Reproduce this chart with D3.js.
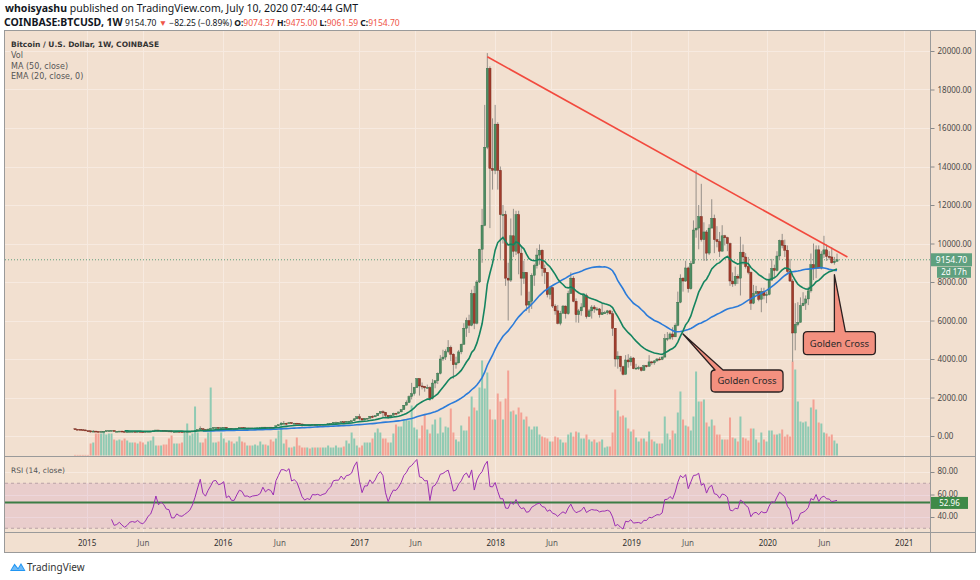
<!DOCTYPE html>
<html><head><meta charset="utf-8">
<script src="https://cdn.jsdelivr.net/npm/d3@7"></script>
<style>body{margin:0;background:#fff;} svg{display:block;font-family:"Noto Sans","Open Sans",sans-serif;}</style>
</head><body><svg id="c" width="980" height="580"></svg>
<script>
// ---------- DATA ----------
const startWeek = "2014-12-01";
const firstOpen = 378;
const closes = [352,348,330,317,273,270,210,255,235,228,
235,245,277,281,286,245,248,256,237,222,
228,238,240,236,241,230,225,232,244,250,
270,310,280,291,282,265,263,228,228,240,
232,230,235,240,246,260,285,325,381,335,
323,358,391,434,438,423,430,447,383,395,
374,374,406,438,433,413,415,410,416,418,
420,428,460,446,459,456,443,530,585,665,
665,660,698,650,665,655,625,588,570,580,
575,608,606,610,605,612,616,640,655,700,
705,705,740,730,765,770,790,890,998,905,
830,920,920,1020,995,1055,1180,1260,1230,1070,
960,1080,1180,1175,1250,1370,1600,1740,2050,2200,
2520,2980,2600,2580,2500,2520,1950,2750,2870,3250,
4000,4100,4380,4600,4250,3700,3800,4370,4760,5600,
6000,5750,7400,5860,8000,9700,10950,15000,19100,13900,
13800,16200,13800,11500,11500,8200,8100,10400,9600,11500,
9500,8200,8500,6800,7000,8350,8850,9400,9650,8700,
8500,7350,7700,6750,6500,5850,6380,6750,6350,7400,
8200,7000,6300,6500,6700,7300,6200,6500,6700,6600,
6600,6300,6400,6400,6500,6350,5600,4000,4150,3600,
3200,3950,3850,4050,3500,3530,3550,3410,3650,3620,
3850,3800,3900,4000,3980,4100,5050,5070,5300,5150,
5750,6950,8200,8050,8730,7650,8950,10700,10800,11400,
10200,10600,9500,10800,11300,10200,10100,9600,10400,10300,
10000,8050,7900,8300,8200,9550,9300,8800,8500,6900,
7400,7500,7100,7500,7300,7350,8100,8700,8600,9350,
10150,9900,9650,8550,8050,5350,5800,5900,6770,6900,
7120,7540,8900,8720,9670,8720,9450,9670,9330,9300,
9000,9074.37,9154.70];
const highs = [382,357,352,335,320,300,275,310,262,245,
265,250,282,300,298,288,255,260,260,240,
235,245,245,245,245,243,232,238,255,258,
275,315,300,298,300,285,268,267,240,245,
245,235,237,244,248,265,288,336,502,382,
345,380,395,466,468,458,440,460,455,415,
398,390,410,445,440,440,420,418,420,420,
424,430,464,468,465,464,458,530,595,710,
780,686,705,702,680,680,660,630,600,585,
585,612,623,612,612,615,623,645,660,720,
745,725,752,755,770,780,795,935,1030,1150,
915,930,930,1040,1070,1060,1190,1290,1330,1250,
1080,1100,1210,1200,1260,1380,1600,1850,2110,2760,
2550,3000,3000,2780,2600,2670,2580,2950,2880,3300,
4200,4480,4500,4980,4700,4300,4120,4470,4800,5860,
6150,6300,7600,7800,8100,9730,11800,17200,19891,19200,
16500,17200,16300,14000,12000,11700,9000,11300,11800,11700,
11700,9900,9100,8500,7500,8450,8950,9750,9950,9700,
8900,8500,7800,7750,6850,6800,6500,6800,6780,7550,
8500,8300,7150,6600,6900,7400,7400,6600,6800,6800,
6700,6650,6900,6500,6550,6550,6500,5600,4400,4150,
3650,4200,4250,4150,4100,3750,3650,3600,3700,3690,
4200,3900,3950,4050,4100,4150,5300,5400,5380,5650,
5850,7500,8400,8250,9100,8800,9100,11200,13800,12000,
13100,11100,10700,11000,12300,11500,10900,10600,10950,10450,
10350,10050,8500,8800,8400,10350,9950,9500,9300,8550,
7850,7800,7500,7700,7700,7500,8450,9200,8900,9600,
10200,10500,10200,9900,9200,8150,6900,6950,7200,7470,
7300,7750,9480,10000,9900,9900,9600,10400,9950,9600,
9800,9300,9475];
const lows = [345,340,310,310,262,265,170,205,215,212,
218,225,236,265,265,240,235,242,230,215,
218,220,232,231,234,224,220,225,230,240,
248,265,270,275,277,258,258,190,200,225,
228,225,227,235,236,245,258,283,325,300,
310,313,355,391,430,414,417,425,370,362,
364,368,370,402,405,408,404,405,409,413,
415,420,425,445,443,448,436,440,525,570,
640,550,620,627,645,645,620,480,565,568,
568,568,601,600,590,600,607,612,630,650,
700,693,700,725,728,755,765,790,890,820,
750,820,880,915,930,990,1045,1150,980,950,
890,930,1070,1140,1170,1240,1360,1600,1720,1900,
2100,2500,2100,2420,2300,2480,1830,1900,2480,2700,
3200,3900,3950,4300,3900,2980,3500,3770,4250,4750,
5150,5350,5700,5550,5800,7950,9000,10900,14900,10800,
12800,13600,12800,9200,10000,7800,6000,8000,9300,9400,
8400,7300,7900,6500,6400,6600,7800,8700,8900,8300,
7900,7200,7100,6650,6300,5800,5750,6350,6100,6300,
7400,6950,5900,5880,6250,6700,6100,6200,6100,6400,
6500,6150,6300,6380,6300,6300,5200,3600,3500,3350,
3150,3200,3550,3650,3470,3450,3430,3350,3380,3560,
3600,3700,3700,3860,3930,3940,4080,4930,5000,5000,
5150,5700,6900,7500,8000,7450,7600,8950,10300,9700,
10100,9100,9100,9400,10800,9500,9800,9300,9600,9900,
9600,7800,7750,7800,7900,7300,8900,8700,8400,6550,
6850,7300,7000,6430,7100,6900,7300,8050,8250,8550,
9150,9750,9300,8400,8000,3850,4450,5700,5900,6750,
6550,6800,7450,8100,8200,8700,8650,9250,9100,9150,
8950,8900,9061.59];
const volumes = [0.6,0.6,0.6,0.6,0.6,0.6,
12,13,22,22,22,24,21,22,22,16,
15,16,15,17,15,13,13,13,12,14,13,
11,14,15,19,10,10,10,11,11,17,
20,12,12,12,13,23,32,20,22,49,
23,13,13,17,23,68,13,13,14,23,
17,13,15,14,12,14,19,14,13,10,
10,10,11,10,14,11,11,10,16,14,
17,25,33,12,16,8,8,9,18,10,
8,8,8,7,8,8,8,8,8,8,
10,8,8,10,8,8,9,15,12,23,
17,10,8,10,13,13,13,17,23,27,
23,17,17,13,13,22,31,29,29,36,
36,35,50,28,26,17,30,41,26,22,
31,36,22,
38,23,29,28,47,23,16,14,30,25,
25,39,59,48,45,68,95,67,83,46,
36,36,62,54,36,57,85,44,45,41,
48,43,36,39,29,26,29,29,21,19,
18,17,14,14,19,18,16,13,13,21,
23,19,24,23,17,17,21,16,14,16,
13,14,16,8,9,9,23,66,45,39,
40,38,27,24,26,18,14,17,17,14,
24,16,14,12,12,12,39,22,16,25,
22,43,64,36,30,29,25,39,84,54,
54,56,33,29,36,30,21,21,16,16,
16,38,18,17,14,39,18,17,15,27,
27,16,13,23,16,14,25,25,21,21,
22,26,19,21,19,94,86,54,34,33,
34,29,48,56,46,33,32,23,22,19,
21,15,12];
const priceTicks = [0,2000,4000,6000,8000,10000,12000,14000,16000,18000,20000];
const rsiTicks = [40,60,80];
const timeTicks = [["2015-01-01","2015"],["2015-06-01","Jun"],["2016-01-01","2016"],["2016-06-01","Jun"],
["2017-01-01","2017"],["2017-06-01","Jun"],["2018-01-01","2018"],["2018-06-01","Jun"],["2019-01-01","2019"],
["2019-06-01","Jun"],["2020-01-01","2020"],["2020-06-01","Jun"],["2021-01-01","2021"]];
const trendLine = [["2017-12-11",19700],["2020-08-03",9300]];
const callouts = [["2019-05-20",5300,"Golden Cross"],["2020-06-29",8380,"Golden Cross"]];
const lastPrice = 9154.70, countdown = "2d 17h", rsiLast = 52.96;
const headerLine1 = ["whoisyashu", " published on TradingView.com, July 10, 2020 07:40:44 GMT"];
const symbolText = "COINBASE:BTCUSD, 1W", changeText = "−82.25 (−0.89%)";
const ohlcLabels = ["O:", "H:", "L:", "C:"], ohlcValues = ["9074.37", "9475.00", "9061.59", "9154.70"];
const legendLines = ["Bitcoin / U.S. Dollar, 1W, COINBASE", "Vol", "MA (50, close)", "EMA (20, close, 0)"];

// ---------- SCALES ----------
const parse = d3.utcParse("%Y-%m-%d");
const t0 = parse(startWeek);
const dates = closes.map((_, i) => d3.utcDay.offset(t0, 7 * i));
const opens = closes.map((c, i) => i === 0 ? firstOpen : closes[i - 1]);
const N = closes.length;
const x = d3.scaleUtc().domain([t0, dates[N - 1]]).range([75, 837]);
const yP = d3.scaleLinear().domain([0, 20000]).range([436, 51]);
const yV = d3.scaleLinear().domain([0, 100]).range([455.5, 355.5]);
const yR = d3.scaleLinear().domain([30, 80]).range([528.25, 472]);

// indicators
const ma50 = closes.map((c, i) => i < 49 ? null : d3.mean(closes.slice(i - 49, i + 1)));
const ema20 = []; { const a = 2 / 21; let e = null;
  closes.forEach((c, i) => { if (i < 19) { ema20.push(null); return; }
    if (i === 19) e = d3.mean(closes.slice(0, 20)); else e = a * c + (1 - a) * e; ema20.push(e); }); }
const rsi = []; { const n = 14; let g = 0, l = 0;
  for (let i = 0; i < N; i++) {
    if (i === 0) { rsi.push(null); continue; }
    const d = closes[i] - closes[i - 1];
    if (i <= n) { g += Math.max(d, 0); l += Math.max(-d, 0);
      if (i === n) { g /= n; l /= n; rsi.push(100 - 100 / (1 + g / l)); } else rsi.push(null); continue; }
    g = (g * (n - 1) + Math.max(d, 0)) / n; l = (l * (n - 1) + Math.max(-d, 0)) / n;
    rsi.push(l === 0 ? 100 : 100 - 100 / (1 + g / l)); } }

// ---------- DRAW ----------
const svg = d3.select("#c");
const BG = "#F2E0D0", GRID = "#F7EAE0", FRAME = "#9a9a9a";
svg.append("rect").attr("x", 4.5).attr("y", 30.5).attr("width", 971).attr("height", 522).attr("fill", BG).attr("stroke", FRAME);

const defs = svg.append("defs");
defs.append("clipPath").attr("id", "main").append("rect").attr("x", 5).attr("y", 31).attr("width", 925).attr("height", 425);
defs.append("clipPath").attr("id", "rsip").append("rect").attr("x", 5).attr("y", 457).attr("width", 925).attr("height", 75);

// grid
const grid = svg.append("g").attr("stroke", GRID).attr("stroke-width", 1);
priceTicks.forEach(t => grid.append("line").attr("x1", 5).attr("x2", 930).attr("y1", Math.round(yP(t)) + 0.5).attr("y2", Math.round(yP(t)) + 0.5));
timeTicks.forEach(t => { const xx = Math.round(x(parse(t[0]))) + 0.5;
  grid.append("line").attr("x1", xx).attr("x2", xx).attr("y1", 31).attr("y2", 532); });
rsiTicks.forEach(t => grid.append("line").attr("x1", 5).attr("x2", 930).attr("y1", Math.round(yR(t)) + 0.5).attr("y2", Math.round(yR(t)) + 0.5));

const main = svg.append("g").attr("clip-path", "url(#main)");
// volume
main.append("g").selectAll("rect").data(volumes).join("rect")
  .attr("x", (d, i) => x(dates[i]) - 1).attr("width", 2)
  .attr("y", d => yV(d)).attr("height", d => yV(0) - yV(d))
  .attr("fill", (d, i) => closes[i] >= opens[i] ? "#8FCAB3" : "#F3A194");

// price line
main.append("line").attr("x1", 5).attr("x2", 930).attr("y1", yP(lastPrice)).attr("y2", yP(lastPrice))
  .attr("stroke", "#5E9E7E").attr("stroke-dasharray", "1,2").attr("stroke-width", 1);

// candles
const cg = main.append("g");
closes.forEach((c, i) => {
  const cx = x(dates[i]), up = c >= opens[i];
  cg.append("line").attr("x1", cx).attr("x2", cx).attr("y1", yP(highs[i])).attr("y2", yP(lows[i]))
    .attr("stroke", "#8a8680").attr("stroke-width", 0.9);
  const y1 = yP(Math.max(c, opens[i])), y2 = yP(Math.min(c, opens[i]));
  cg.append("rect").attr("x", cx - 1.1).attr("width", 2.2).attr("y", y1).attr("height", Math.max(1, y2 - y1))
    .attr("fill", up ? "#4E8C62" : "#A13C2C").attr("stroke", up ? "#2F6A45" : "#6E2116").attr("stroke-width", 0.4);
});

// MA / EMA
const lineGen = d3.line().defined(d => d[1] != null).x(d => x(d[0])).y(d => yP(d[1]));
main.append("path").attr("d", lineGen(dates.map((d, i) => [d, ma50[i]]))).attr("fill", "none").attr("stroke", "#2B7BD9").attr("stroke-width", 1.6);
main.append("path").attr("d", lineGen(dates.map((d, i) => [d, ema20[i]]))).attr("fill", "none").attr("stroke", "#14845F").attr("stroke-width", 1.6);

// trend line
main.append("line").attr("x1", x(parse(trendLine[0][0]))).attr("y1", yP(trendLine[0][1]))
  .attr("x2", x(parse(trendLine[1][0]))).attr("y2", yP(trendLine[1][1])).attr("stroke", "#F24A3E").attr("stroke-width", 1.6);

// callouts
function callout(tx, ty, bx, by, bw, bh, bl, br, label) {
  const r = 4;
  const p = `M${bx + r},${by} L${bl},${by} L${tx},${ty} L${br},${by} L${bx + bw - r},${by} Q${bx + bw},${by} ${bx + bw},${by + r}
   L${bx + bw},${by + bh - r} Q${bx + bw},${by + bh} ${bx + bw - r},${by + bh} L${bx + r},${by + bh} Q${bx},${by + bh} ${bx},${by + bh - r}
   L${bx},${by + r} Q${bx},${by} ${bx + r},${by} Z`;
  svg.append("path").attr("d", p).attr("fill", "#F3907F").attr("stroke", "#2b2020").attr("stroke-width", 1.3).attr("stroke-linejoin", "round");
  svg.append("text").attr("x", bx + bw / 2).attr("y", by + bh / 2 + 3.5).attr("text-anchor", "middle")
    .attr("font-size", 9.5).attr("fill", "#2a2a2a").text(label);
}
{ const c = callouts[0], tx = x(parse(c[0])), ty = yP(c[1]);
  callout(tx, ty, tx + 28, ty + 36, 72, 22, tx + 32, tx + 40, c[2]); }
{ const c = callouts[1], tx = x(parse(c[0])), ty = yP(c[1]);
  callout(tx, ty, tx - 31, ty + 57, 72, 23, tx, tx + 11, c[2]); }

// RSI pane
const rp = svg.append("g").attr("clip-path", "url(#rsip)");
rp.append("rect").attr("x", 5).attr("width", 925).attr("y", yR(70)).attr("height", yR(30) - yR(70)).attr("fill", "#9C27B0").attr("fill-opacity", 0.1);
[70, 30].forEach(v => rp.append("line").attr("x1", 5).attr("x2", 930).attr("y1", yR(v)).attr("y2", yR(v))
  .attr("stroke", "#b9a3a6").attr("stroke-dasharray", "3,3"));
rp.append("line").attr("x1", 5).attr("x2", 930).attr("y1", yR(rsiLast)).attr("y2", yR(rsiLast)).attr("stroke", "#3B7D45").attr("stroke-width", 2);
rp.append("path").attr("d", d3.line().defined(d => d[1] != null).x(d => x(d[0])).y(d => yR(d[1]))(dates.map((d, i) => [d, rsi[i]])))
  .attr("fill", "none").attr("stroke", "#9C2FB3").attr("stroke-width", 1);

// frame separators
const fr = svg.append("g").attr("stroke", FRAME).attr("stroke-width", 1);
fr.append("line").attr("x1", 930.5).attr("x2", 930.5).attr("y1", 30.5).attr("y2", 552.5);
fr.append("line").attr("x1", 4.5).attr("x2", 975.5).attr("y1", 456.5).attr("y2", 456.5);
fr.append("line").attr("x1", 4.5).attr("x2", 975.5).attr("y1", 532.5).attr("y2", 532.5);

// axes
function styleAxis(g) { g.select(".domain").remove(); g.selectAll("line").attr("stroke", "#8a8a8a");
  g.selectAll("text").attr("fill", "#4a4a4a").attr("font-size", 8).attr("font-family", "Noto Sans, sans-serif"); }
svg.append("g").attr("transform", "translate(930.5,0)")
  .call(d3.axisRight(yP).tickValues(priceTicks).tickFormat(d => d.toFixed(2)).tickSize(4).tickPadding(3)).call(styleAxis);
const ra = svg.append("g").attr("transform", "translate(930.5,0)")
  .call(d3.axisRight(yR).tickValues(rsiTicks).tickFormat(d => d.toFixed(2)).tickSize(4).tickPadding(3)).call(styleAxis);
ra.selectAll("text").attr("dy", "0.2em");
const ta = svg.append("g").attr("transform", "translate(0,532.5)")
  .call(d3.axisBottom(x).tickValues(timeTicks.map(t => parse(t[0]))).tickFormat((d, i) => timeTicks[i][1]).tickSize(0).tickPadding(8)).call(styleAxis);
ta.selectAll("text").attr("fill", (d, i) => timeTicks[i][1] === "Jun" ? "#5a5a5a" : "#2f2f2f");

// price label boxes
{ const yy = yP(lastPrice);
  svg.append("rect").attr("x", 931).attr("y", yy - 6.5).attr("width", 41).attr("height", 13).attr("fill", "#5FA07F");
  svg.append("text").attr("x", 951.5).attr("y", yy + 3).attr("text-anchor", "middle").attr("font-size", 8.5).attr("fill", "#fff").text(lastPrice.toFixed(2));
  svg.append("rect").attr("x", 937).attr("y", yy + 7).attr("width", 34).attr("height", 11).attr("fill", "#5FA07F");
  svg.append("text").attr("x", 954).attr("y", yy + 15.5).attr("text-anchor", "middle").attr("font-size", 8).attr("fill", "#fff").text(countdown);
  const yr = yR(rsiLast);
  svg.append("rect").attr("x", 931).attr("y", yr - 5.5).attr("width", 37).attr("height", 12).attr("fill", "#3E8A48");
  svg.append("text").attr("x", 949.5).attr("y", yr + 3.5).attr("text-anchor", "middle").attr("font-size", 8).attr("fill", "#fff").text(rsiLast.toFixed(2)); }

// legends
const lg = svg.append("g").attr("font-family", "DejaVu Sans, sans-serif").attr("fill", "#555");
legendLines.forEach((t, i) => lg.append("text").attr("x", 11).attr("y", 47 + i * 10.8)
  .attr("font-size", i === 0 ? 7.5 : 8).attr("font-weight", i === 0 ? "bold" : null).attr("fill", i === 0 ? "#333" : null).text(t));
svg.append("text").attr("x", 11).attr("y", 473).attr("font-family", "DejaVu Sans, sans-serif").attr("font-size", 7.5).attr("fill", "#555").text("RSI (14, close)");

// header
const h1 = svg.append("text").attr("x", 5).attr("y", 12).attr("font-size", 10.5).attr("fill", "#131722");
h1.append("tspan").attr("font-weight", "bold").text(headerLine1[0]);
h1.append("tspan").text(headerLine1[1]);
const RED = "#EF5548";
const h2 = svg.append("text").attr("x", 4).attr("y", 26).attr("font-size", 8.5).attr("fill", "#131722");
h2.append("tspan").attr("font-weight", "bold").attr("font-size", 10.5).text(symbolText);
h2.append("tspan").text(" " + lastPrice.toFixed(2) + " ");
h2.append("tspan").attr("fill", RED).text("▼");
h2.append("tspan").text(" " + changeText + " ");
ohlcLabels.forEach((l, i) => {
  h2.append("tspan").attr("font-weight", "bold").text((i ? " " : "") + l);
  h2.append("tspan").attr("fill", RED).text(ohlcValues[i]); });

// footer logo
svg.append("path").attr("d", "M10,571 L14.5,563.5 L18,568 L21,563 L25.5,571 Z").attr("fill", "#2196F3");
svg.append("path").attr("d", "M11.5,570 L14.5,565.5 L18,569.5 L21,565 L24,570 Z").attr("fill", "#fff").attr("fill-opacity", 0.35);
svg.append("text").attr("x", 27).attr("y", 571).attr("font-size", 10).attr("fill", "#333").text("TradingView");
</script></body></html>
